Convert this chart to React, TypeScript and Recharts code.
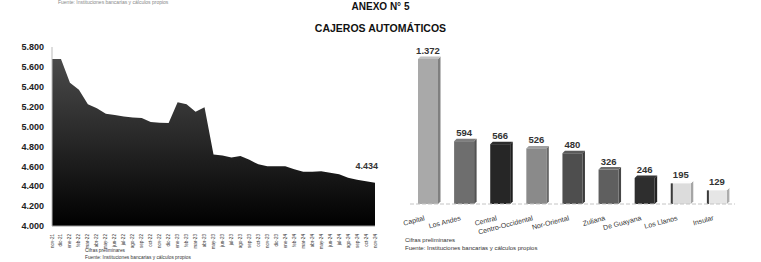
import React from "react";
import {
  AreaChart,
  Area,
  BarChart,
  Bar,
  XAxis,
  YAxis,
  LabelList,
} from "recharts";

const months = [
  "nov-21", "dic-21", "ene-22", "feb-22", "mar-22", "abr-22", "may-22", "jun-22",
  "jul-22", "ago-22", "sep-22", "oct-22", "nov-22", "dic-22", "ene-23", "feb-23",
  "mar-23", "abr-23", "may-23", "jun-23", "jul-23", "ago-23", "sep-23", "oct-23",
  "nov-23", "dic-23", "ene-24", "feb-24", "mar-24", "abr-24", "may-24", "jun-24",
  "jul-24", "ago-24", "sep-24", "oct-24", "nov-24",
];

const cajerosTotal = [
  5680, 5680, 5440, 5370, 5225, 5185, 5130, 5115, 5100, 5090, 5085, 5045, 5038,
  5035, 5245, 5225, 5150, 5195, 4720, 4710, 4690, 4705, 4665, 4620, 4600, 4600,
  4600, 4570, 4545, 4545, 4550, 4535, 4520, 4485, 4465, 4450, 4434,
];

const yTicks = [4000, 4200, 4400, 4600, 4800, 5000, 5200, 5400, 5600, 5800];

const regiones = [
  "Capital", "Los Andes", "Central", "Centro-Occidental", "Nor-Oriental",
  "Zuliana", "De Guayana", "Los Llanos", "Insular",
];

const cajerosRegion = [1372, 594, 566, 526, 480, 326, 246, 195, 129];

const barColors = [
  "#a9a9a9", "#6e6e6e", "#262626", "#8a8a8a", "#4e4e4e",
  "#5f5f5f", "#2e2e2e", "#dcdcdc", "#e6e6e6",
];

const lineData = months.map((m, i) => ({ mes: m, total: cajerosTotal[i] }));
const barData = regiones.map((r, i) => ({ region: r, valor: cajerosRegion[i] }));

const fmt = (v: number) => v.toLocaleString("de-DE");

const FONT = "'Liberation Sans', Arial, sans-serif";

function shade(hex: string, k: number) {
  const n = parseInt(hex.slice(1), 16);
  const c = [(n >> 16) & 255, (n >> 8) & 255, n & 255].map((v) =>
    Math.max(0, Math.min(255, Math.round(v * k)))
  );
  return `rgb(${c[0]},${c[1]},${c[2]})`;
}

// barra con un poco de volumen (cara lateral y tapa)
const Bar3D = (props: any) => {
  const { x, y, width, height, index } = props;
  const fill = barColors[index];
  const d = 2.5;
  const light = index >= 7;
  return (
    <g>
      <polygon
        points={`${x + width},${y} ${x + width + d},${y - d} ${x + width + d},${y + height - d} ${x + width},${y + height}`}
        fill={shade(fill, 0.75)}
      />
      <polygon
        points={`${x},${y} ${x + d},${y - d} ${x + width + d},${y - d} ${x + width},${y}`}
        fill={shade(fill, 1.15)}
      />
      <rect x={x} y={y} width={width} height={height} fill={fill} />
      {light && <rect x={x} y={y} width={2} height={height} fill="#3a3a3a" />}
    </g>
  );
};

const MonthTick = (props: any) => {
  const { x, y, payload } = props;
  return (
    <text
      x={x}
      y={y}
      transform={`rotate(-90, ${x}, ${y})`}
      textAnchor="end"
      dominantBaseline="central"
      fontSize={4.6}
      fontFamily={FONT}
      fill="#333"
    >
      {payload.value}
    </text>
  );
};

const RegionTick = (props: any) => {
  const { x, y, payload } = props;
  const tx = x - 3;
  const ty = y + 8;
  return (
    <text
      x={tx}
      y={ty}
      transform={`rotate(-15, ${tx}, ${ty})`}
      textAnchor="end"
      fontSize={7}
      fontFamily={FONT}
      fill="#333"
    >
      {payload.value}
    </text>
  );
};

const LastLabel = (props: any) => {
  const { x, y, value, index } = props;
  if (index !== cajerosTotal.length - 1) return null;
  return (
    <text
      x={x + 3}
      y={y - 14}
      textAnchor="end"
      fontSize={9}
      fontWeight="bold"
      fontFamily={FONT}
      fill="#333"
    >
      {fmt(value)}
    </text>
  );
};

const foot: React.CSSProperties = {
  position: "absolute",
  fontFamily: FONT,
  color: "#333",
  whiteSpace: "nowrap",
  lineHeight: 1.45,
};

export default function App() {
  return (
    <div
      style={{
        position: "relative",
        width: 761,
        height: 262,
        background: "#fff",
        overflow: "hidden",
        fontFamily: FONT,
      }}
    >
      <style>{"body{margin:0}"}</style>

      <div style={{ ...foot, left: 58, top: 0, fontSize: 5, color: "#888", lineHeight: 1 }}>
        Fuente: Instituciones bancarias y cálculos propios
      </div>

      <div
        style={{
          position: "absolute",
          left: 0,
          width: 761,
          top: 1,
          textAlign: "center",
          fontWeight: "bold",
          fontSize: 10,
          color: "#111",
        }}
      >
        ANEXO N° 5
      </div>
      <div
        style={{
          position: "absolute",
          left: 0,
          width: 761,
          top: 22,
          textAlign: "center",
          fontWeight: "bold",
          fontSize: 10.5,
          color: "#111",
        }}
      >
        CAJEROS AUTOMÁTICOS
      </div>

      <div style={{ position: "absolute", left: 0, top: 0, width: 390, height: 262 }}>
        <AreaChart
          width={390}
          height={262}
          data={lineData}
          margin={{ top: 47, right: 15, left: 0, bottom: 0 }}
        >
          <defs>
            <linearGradient id="gradArea" x1="0" y1="0" x2="0" y2="1">
              <stop offset="0%" stopColor="#4a4a4a" />
              <stop offset="45%" stopColor="#2a2a2a" />
              <stop offset="100%" stopColor="#000" />
            </linearGradient>
          </defs>
          <XAxis
            dataKey="mes"
            interval={0}
            height={36}
            tick={<MonthTick />}
            tickLine={false}
            axisLine={{ stroke: "#999" }}
          />
          <YAxis
            domain={[4000, 5800]}
            ticks={yTicks}
            width={52}
            tickSize={0}
            tickMargin={8}
            tickFormatter={fmt}
            axisLine={{ stroke: "#bbb" }}
            tick={{ fontSize: 9, fontWeight: "bold", fill: "#222", fontFamily: FONT }}
          />
          <Area
            type="linear"
            dataKey="total"
            stroke="none"
            fill="url(#gradArea)"
            fillOpacity={1}
            isAnimationActive={false}
          >
            <LabelList dataKey="total" content={<LastLabel />} />
          </Area>
        </AreaChart>
      </div>

      <div style={{ ...foot, left: 85, top: 248, fontSize: 4.8 }}>
        Cifras preliminares
        <br />
        Fuente: Instituciones bancarias y cálculos propios
      </div>

      <div style={{ position: "absolute", left: 390, top: 0, width: 371, height: 262 }}>
        <BarChart
          width={371}
          height={262}
          data={barData}
          margin={{ top: 56, right: 26, left: 20, bottom: 0 }}
          barSize={20}
        >
          <XAxis
            dataKey="region"
            interval={0}
            height={58}
            tick={<RegionTick />}
            tickLine={false}
            axisLine={{ stroke: "#c4c4c4", strokeDasharray: "4 2" }}
          />
          <YAxis hide domain={[0, 1400]} />
          <Bar dataKey="valor" shape={<Bar3D />} isAnimationActive={false}>
            <LabelList
              dataKey="valor"
              position="top"
              offset={5}
              formatter={(v: any) => fmt(Number(v))}
              style={{ fontSize: 9.5, fontWeight: 600, fill: "#333", fontFamily: FONT }}
            />
          </Bar>
        </BarChart>
      </div>

      <div style={{ ...foot, left: 405, top: 236, fontSize: 6, lineHeight: 1.35 }}>
        Cifras preliminares
        <br />
        Fuente: Instituciones bancarias y cálculos propios
      </div>
    </div>
  );
}
